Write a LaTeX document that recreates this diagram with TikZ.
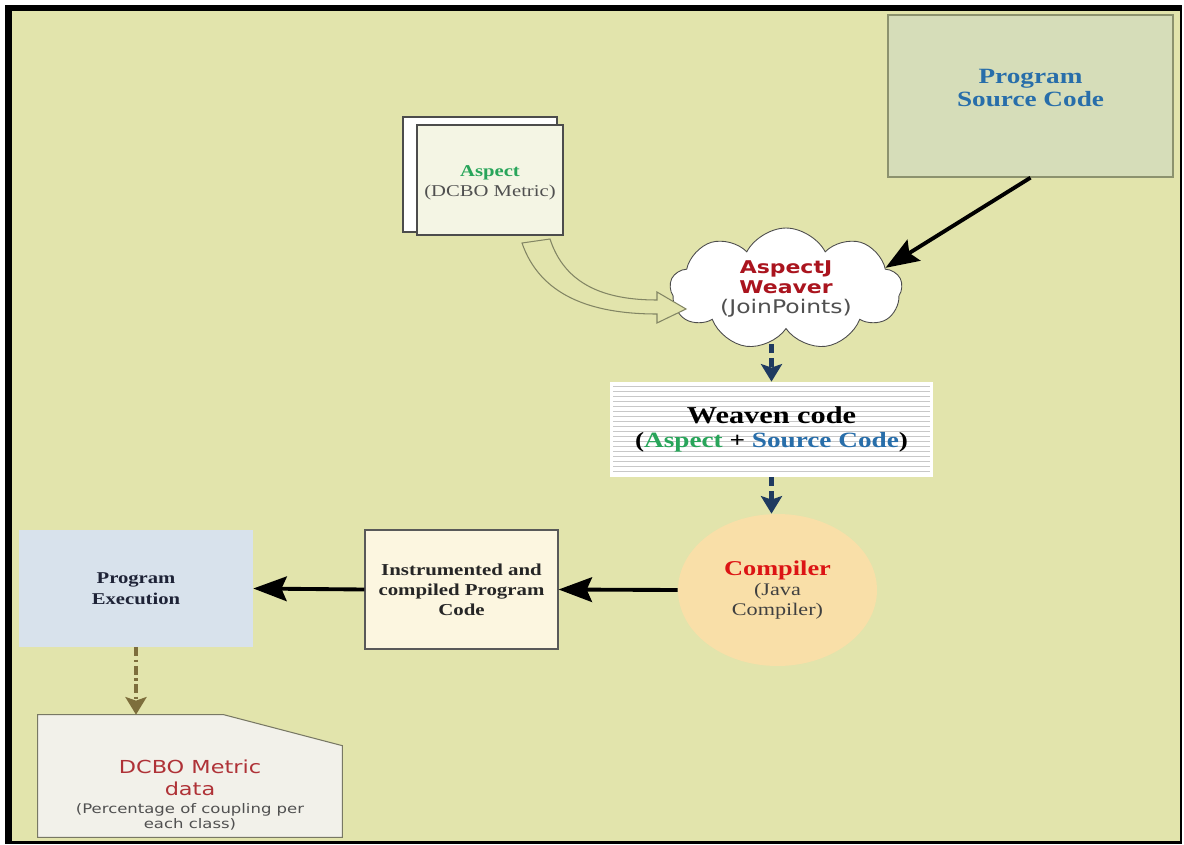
\documentclass[tikz,border=0pt]{standalone}
\usepackage{fontspec}
\setmainfont[FakeStretch=1.25]{Liberation Serif}
\newfontfamily\verd[FakeStretch=1.25]{DejaVu Sans}
\usepackage{xcolor}
\usetikzlibrary{shapes,arrows,arrows.meta,positioning,calc}

\definecolor{bgcol}{RGB}{226,228,172}
\definecolor{srcfill}{RGB}{214,221,185}
\definecolor{srcline}{RGB}{140,146,110}
\definecolor{srcblue}{RGB}{40,110,170}
\definecolor{asgreen}{RGB}{40,165,90}
\definecolor{pagefill}{RGB}{244,245,228}
\definecolor{cloudred}{RGB}{170,20,30}
\definecolor{txtgray}{RGB}{80,80,80}
\definecolor{codeline}{RGB}{200,200,200}
\definecolor{compfill}{RGB}{249,223,168}
\definecolor{compred}{RGB}{220,20,20}
\definecolor{instfill}{RGB}{252,246,224}
\definecolor{execfill}{RGB}{216,226,236}
\definecolor{exectext}{RGB}{30,35,55}
\definecolor{arrowblue}{RGB}{31,58,96}
\definecolor{arrowolive}{RGB}{125,110,60}
\definecolor{datafill}{RGB}{242,241,234}
\definecolor{dataline}{RGB}{120,120,100}
\definecolor{datared}{RGB}{175,50,55}
\definecolor{hollow}{RGB}{130,133,100}

\newcommand{\smalltxt}[1]{\textcolor{txtgray}{\fontsize{7.5}{9}\selectfont #1}}

\begin{document}
\begin{tikzpicture}[
    x=0.02cm, y=-0.02cm,
    srcbox/.style={rectangle, draw=srcline, fill=srcfill, line width=0.8pt, minimum width=5.7cm, minimum height=3.24cm},
    srctext/.style={align=center, text=srcblue, font=\fontsize{12.4}{13}\selectfont\bfseries},
    page/.style={rectangle, draw=gray!60!black, line width=0.6pt, minimum width=2.92cm, minimum height=2.2cm, align=center, font=\fontsize{9.4}{11.3}\selectfont},
    weaver/.style={cloud, cloud puffs=9, cloud puff arc=125, aspect=2.1, draw=gray!60!black, fill=white, line width=0.5pt, minimum width=4.64cm, minimum height=2.3cm, inner sep=0pt, align=center, font=\verd\fontsize{10}{11.5}\selectfont},
    codebox/.style={rectangle, fill=white, minimum width=6.46cm, minimum height=1.9cm, align=center},
    compnode/.style={ellipse, fill=compfill, minimum width=3.98cm, minimum height=3.04cm, align=center, text=txtgray!80!black, font=\fontsize{10.1}{11.3}\selectfont},
    instbox/.style={rectangle, draw=gray!70!black, fill=instfill, line width=0.7pt, minimum width=3.86cm, minimum height=2.38cm, align=center, text=black!85, font=\fontsize{9.5}{11.5}\selectfont\bfseries},
    execbox/.style={rectangle, fill=execfill, minimum width=4.68cm, minimum height=2.34cm, align=center, text=exectext, font=\fontsize{9.4}{12}\selectfont\bfseries},
    databox/.style={rectangle, minimum width=6.08cm, minimum height=2.44cm, inner sep=0pt},
    datatext/.style={align=center, text=datared, font=\verd\fontsize{10.2}{12.5}\selectfont},
    arrow/.style={-{Stealth[length=19pt, width=14pt, inset=3pt]}, line width=2.2pt},
    dasharrow/.style={-{Stealth[length=10pt, width=12pt, inset=2pt]}, line width=2.5pt, arrowblue, dash pattern=on 5pt off 3pt},
    dotarrow/.style={-{Stealth[length=10pt, width=12pt, inset=2pt]}, line width=2.5pt, arrowolive, dash pattern=on 5pt off 2pt on 1.5pt off 2pt}
]
\useasboundingbox (0,0) rectangle (1184,845);

% Frame and background
\fill[white] (0,0) rectangle (1184,845);
\fill[black] (5,5) rectangle (1182,844);
\fill[bgcol] (12,11) rectangle (1180,841);

% Program source
\node[srcbox] (src) at (1030.5,96) {};
\node[srctext] (srctxt) at ([yshift=0.16cm]src.center) {Program\\Source Code};

% Aspect pages
\node[page, fill=white, minimum width=3.08cm, minimum height=2.3cm] (back) at (480,174.5) {};
\node[page, fill=pagefill] (aspect) at (490,180) {\\[-2pt]\textcolor{asgreen}{\bfseries Aspect}\\\textcolor{txtgray}{(DCBO Metric)}};

% AspectJ weaver
\node[weaver] (weaver) at (786,289) {\textcolor{cloudred}{\bfseries AspectJ}\\\textcolor{cloudred}{\bfseries Weaver}\\\textcolor{txtgray}{\fontsize{10.7}{11.5}\selectfont(JoinPoints)}};

% Hollow arrow aspect -> weaver
\draw[hollow, fill=bgcol, line width=0.6pt, line join=miter]
  (522,243) -- (550,239) .. controls (565,285) and (605,300) .. (657,300)
  -- (657,292) -- (686,309) -- (657,323) -- (657,314)
  .. controls (590,314) and (540,295) .. (522,243) -- cycle;

% Weaven code
\node[codebox] (weaven) at (771.5,429.5) {};
\foreach \yy in {386,391,...,474}
  \draw[codeline, line width=0.4pt] (613,\yy) -- (930,\yy);
\node[align=center, font=\bfseries] (weaventxt) at (weaven.center) {\fontsize{13.8}{15.3}\selectfont Weaven code\\[2pt]\fontsize{12.4}{15.3}\selectfont(\textcolor{asgreen}{Aspect} + \textcolor{srcblue}{Source Code})};

% Compiler
\node[compnode] (comp) at (777.5,590) {\textcolor{compred}{\fontsize{12}{12.5}\selectfont\bfseries Compiler}\\(Java\\Compiler)};

% Instrumented code and execution
\node[instbox] (inst) at (461.5,589.5) {Instrumented and\\compiled Program\\Code};
\node[execbox] (exec) at (136,588.5) {Program\\Execution};

% DCBO data
\node[databox] (data) at (190,776) {};
\draw[dataline, fill=datafill, line width=0.6pt] (data.north west) -- ($(data.north west)+(186,0)$)
  -- ($(data.north east)+(0,31)$) -- (data.south east) -- (data.south west) -- cycle;
\node[datatext] (datatxt) at (190,795) {DCBO Metric\\data\\[-2pt]\smalltxt{(Percentage of coupling per}\\[-4pt]\smalltxt{each class)}};

% Arrows
\draw[arrow] (src.south) -- (weaver.12);
\draw[dasharrow] ([yshift=-0.3cm]weaven.north |- weaver.south) -- (weaven.north);
\draw[dasharrow] (weaven.south) -- (weaven.south |- comp.north);
\draw[arrow] (comp.west) -- (inst.east);
\draw[arrow] (inst.west) -- (exec.east);
\draw[dotarrow] (exec.south) -- (exec.south |- data.north);

\end{tikzpicture}
\end{document}
